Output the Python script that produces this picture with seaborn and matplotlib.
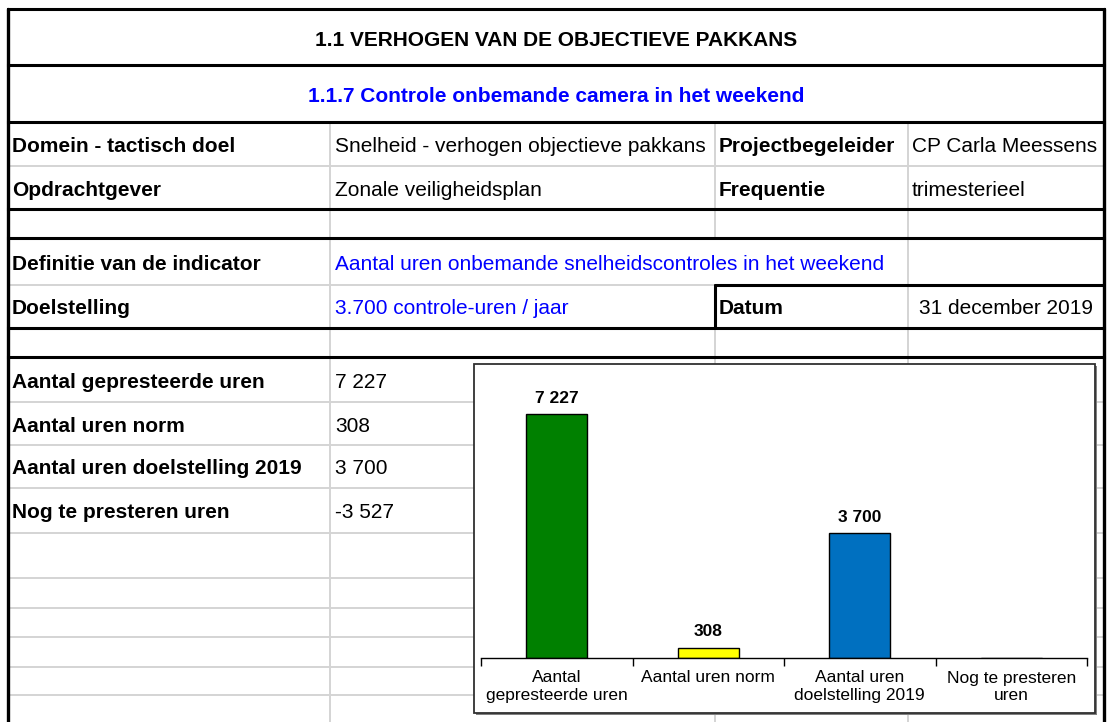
import matplotlib
matplotlib.use("Agg")
import matplotlib.pyplot as plt
import seaborn as sns
from matplotlib.patches import Rectangle

# Chart data
categories = ["Aantal gepresteerde uren", "Aantal uren norm",
              "Aantal uren doelstelling 2019", "Nog te presteren uren"]
tick_labels = ["Aantal\ngepresteerde uren", "Aantal uren norm",
               "Aantal uren\ndoelstelling 2019", "Nog te presteren\nuren"]
hours = [7227, 308, 3700, -3527]
bar_colors = ["#008000", "#FFFF00", "#0070C0", "#7F7F7F"]

# Sheet texts
title = "1.1 VERHOGEN VAN DE OBJECTIEVE PAKKANS"
subtitle = "1.1.7 Controle onbemande camera in het weekend"
info_labels = ["Domein - tactisch doel", "Opdrachtgever"]
info_values = ["Snelheid - verhogen objectieve pakkans", "Zonale veiligheidsplan"]
side_labels = ["Projectbegeleider", "Frequentie"]
side_values = ["CP Carla Meessens", "trimesterieel"]
indicator_label = "Definitie van de indicator"
indicator_text = "Aantal uren onbemande snelheidscontroles in het weekend"
goal_label = "Doelstelling"
goal_text = "3.700 controle-uren / jaar"
date_label = "Datum"
date_text = "31 december 2019"


def fmt(v):
    return f"{v:,}".replace(",", " ")


sns.set_style("white")
plt.rcParams["font.family"] = ["Liberation Sans", "DejaVu Sans"]
plt.rcParams["text.color"] = "black"
plt.rcParams["xtick.color"] = "black"

W, H = 1108, 722
fig = plt.figure(figsize=(W / 100, H / 100), dpi=100)

# spreadsheet background in pixel coordinates
bg = fig.add_axes([0, 0, 1, 1])
bg.set_xlim(0, W)
bg.set_ylim(H, 0)
bg.axis("off")

GRID = "#d4d4d4"
L, R = 8, 1104
c2, c3, c4 = 330, 715, 908
light_rows = [166, 402, 445, 488, 533, 578, 608, 637, 667, 695]
thick_rows = [9, 65, 122, 209, 238, 328, 357]

for y in light_rows:
    bg.plot([L, R], [y, y], color=GRID, lw=1.4)
bg.plot([L, c3], [285, 285], color=GRID, lw=1.4)
bg.plot([c2, c2], [122, H], color=GRID, lw=1.4)
bg.plot([c3, c3], [122, 238], color=GRID, lw=1.4)
bg.plot([c3, c3], [328, H], color=GRID, lw=1.4)
bg.plot([c4, c4], [122, H], color=GRID, lw=1.4)

for y in thick_rows:
    bg.plot([L, R], [y, y], color="black", lw=2.2, solid_capstyle="projecting")
bg.plot([c3, R], [285, 285], color="black", lw=2.2)
bg.plot([c3, c3], [285, 328], color="black", lw=2.2)
bg.plot([L, L], [9, H], color="black", lw=2.4)
bg.plot([R, R], [9, H], color="black", lw=2.4)

FS = 15
OFF = 8


def cell(x, yc, s, bold=False, color="black", ha="left", size=FS):
    bg.text(x, yc + OFF, s, fontsize=size, color=color, ha=ha, va="baseline",
            fontweight="bold" if bold else "normal")


cell((L + R) / 2, 38, title, bold=True, ha="center")
cell((L + R) / 2, 94, subtitle, bold=True, color="#0000FF", ha="center")
for i, yc in enumerate([144, 187.5]):
    cell(12, yc, info_labels[i], bold=True)
    cell(335, yc, info_values[i])
    cell(719, yc, side_labels[i], bold=True)
    cell(912, yc, side_values[i])
cell(12, 261.5, indicator_label, bold=True)
cell(335, 261.5, indicator_text, color="#0000FF")
cell(12, 306.5, goal_label, bold=True)
cell(335, 306.5, goal_text, color="#0000FF")
cell(719, 306.5, date_label, bold=True)
cell(1006, 306.5, date_text, ha="center")
for i, yc in enumerate([379.5, 423.5, 466.5, 510.5]):
    cell(12, yc, categories[i], bold=True)
    cell(335, yc, fmt(hours[i]))

# chart frame
bg.add_patch(Rectangle((476, 366), 621, 349, facecolor="#808080", edgecolor="none", zorder=3))
bg.add_patch(Rectangle((474, 364), 621, 349, facecolor="white", edgecolor="#303030", lw=1.3, zorder=4))

# bar chart
ax = fig.add_axes([481 / W, (H - 658) / H, (1087 - 481) / W, (658 - 388) / H])
ax.set_zorder(2)
ax.patch.set_alpha(0)
sns.barplot(x=categories, y=hours, hue=categories, palette=bar_colors, legend=False,
            width=0.4, edgecolor="black", linewidth=1, saturation=1, ax=ax)
ax.set_ylim(0, 8000)
ax.set_xlim(-0.5, 3.5)
for cont, v in zip(ax.containers, hours):
    ax.bar_label(cont, labels=[fmt(v) if v > 0 else ""], padding=6,
                 fontsize=12.5, fontweight="bold", color="black")

ax.set_xticks([-0.5, 0.5, 1.5, 2.5, 3.5])
ax.set_xticklabels([])
ax.tick_params(axis="x", which="major", bottom=True, length=6, width=1,
               color="black", direction="out")
ax.set_xticks([0, 1, 2, 3], minor=True)
ax.set_xticklabels(tick_labels, minor=True, fontsize=12.5, color="black")
ax.tick_params(axis="x", which="minor", bottom=True, length=0, pad=9)
for t in ax.get_xticklabels(minor=True):
    t.set_linespacing(1.2)
ax.set_yticks([])
ax.set_xlabel("")
ax.set_ylabel("")
for side in ["left", "top", "right"]:
    ax.spines[side].set_visible(False)
ax.spines["bottom"].set_color("black")
ax.spines["bottom"].set_linewidth(1)

fig.savefig("out.png", dpi=100)
